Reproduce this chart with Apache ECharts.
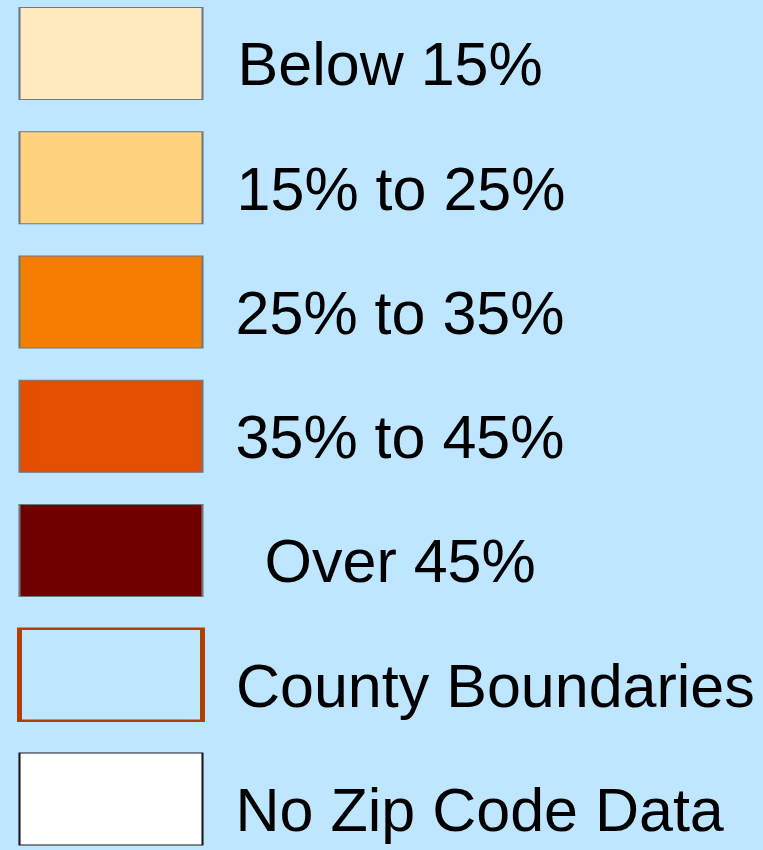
<!DOCTYPE html>
<html>
<head>
<meta charset="utf-8">
<script src="https://cdn.jsdelivr.net/npm/echarts@6/dist/echarts.min.js"></script>
<style>
  html, body { margin: 0; padding: 0; background: #bee6ff; }
  #chart { width: 763px; height: 850px; }
</style>
</head>
<body>
<div id="chart"></div>
<script>
// Legend categories (top to bottom)
const categories = ['Below 15%', '15% to 25%', '25% to 35%', '35% to 45%', 'Over 45%', 'County Boundaries', 'No Zip Code Data'];
// Fill colours per category
const fillColors = ['#ffebbf', '#ffd27f', '#f57d00', '#e34e00', '#700000', 'rgba(0,0,0,0)', '#ffffff'];
// Border colours per category
const borderColors = ['#6f7880', '#6f7880', '#6f7880', '#6f7880', '#6f7880', '#b33c00', '#1a1a1a'];
const borderWidths = [1.5, 1.5, 1.5, 1.5, 1.5, 3.5, 1.5];
const labelDistances = [34, 33, 32, 32, 61, 31, 32];

const chart = echarts.init(document.getElementById('chart'), null, { renderer: 'canvas' });

const data = categories.map((c, i) => ({
  value: ['key', c],
  itemStyle: { color: fillColors[i], borderColor: borderColors[i], borderWidth: borderWidths[i], opacity: 1 },
  label: { distance: labelDistances[i] }
}));

chart.setOption({
  animation: false,
  backgroundColor: '#bee6ff',
  grid: { left: 19, width: 184, top: 53.5, bottom: 51 },
  xAxis: { type: 'category', data: ['key'], show: false, boundaryGap: true },
  yAxis: { type: 'category', data: categories, inverse: true, boundaryGap: false, show: false },
  series: [{
    type: 'scatter',
    symbol: 'rect',
    symbolSize: [183, 92],
    itemStyle: { opacity: 1 },
    data: data,
    label: {
      show: true,
      position: 'right',
      formatter: p => p.value[1],
      color: '#000000',
      opacity: 1,
      fontFamily: '"Liberation Sans", Arial, sans-serif',
      fontSize: 61,
      offset: [0, 15]
    },
    emphasis: { disabled: true }
  }]
});
</script>
</body>
</html>
